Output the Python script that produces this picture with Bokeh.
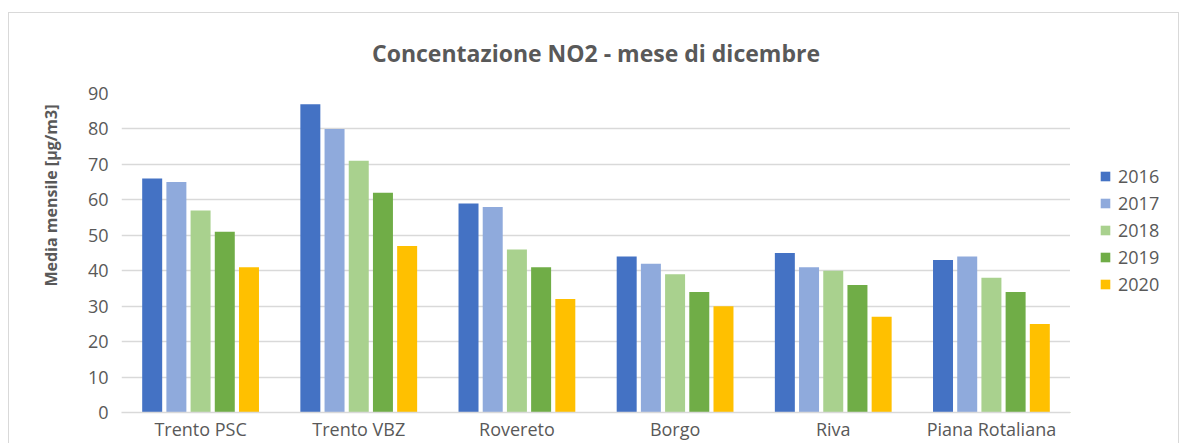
from bokeh.plotting import figure
from bokeh.layouts import row
from bokeh.models import (FactorRange, Range1d, FixedTicker, Legend, LegendItem,
                          Title, ColumnDataSource)
from bokeh.transform import dodge
from bokeh.embed import file_html
from bokeh.resources import INLINE

stations = ["Trento PSC", "Trento VBZ", "Rovereto", "Borgo", "Riva", "Piana Rotaliana"]
years = ["2016", "2017", "2018", "2019", "2020"]
v2016 = [66, 87, 59, 44, 45, 43]
v2017 = [65, 80, 58, 42, 41, 44]
v2018 = [57, 71, 46, 39, 40, 38]
v2019 = [51, 62, 41, 34, 36, 34]
v2020 = [41, 47, 32, 30, 27, 25]
colors = ["#4472C4", "#8FAADC", "#A9D18E", "#70AD47", "#FFC000"]
y_ticks = [0, 10, 20, 30, 40, 50, 60, 70, 80, 90]
title_text = "Concentazione NO2 - mese di dicembre"
y_label = "Media mensile [µg/m3]"

FONT = "Open Sans"
TXT = "#595959"
GRID = "#d9d9d9"

src = ColumnDataSource(dict(station=stations, y2016=v2016, y2017=v2017,
                            y2018=v2018, y2019=v2019, y2020=v2020))

p = figure(width=1061, height=430,
           x_range=FactorRange(*stations), y_range=Range1d(0, 90),
           output_backend="svg", toolbar_location=None,
           min_border_left=112, min_border_right=0,
           min_border_top=79, min_border_bottom=31,
           title=title_text)

p.title.align = "center"
p.title.vertical_align = "top"
p.title.text_font = FONT
p.title.text_font_size = "23px"
p.title.text_font_style = "bold"
p.title.text_color = TXT
p.title.standoff = 46

p.outline_line_color = None
p.xgrid.grid_line_color = None
p.ygrid.grid_line_color = GRID
p.ygrid.grid_line_width = 1.5
p.yaxis.ticker = FixedTicker(ticks=y_ticks)
p.yaxis.axis_line_color = None
p.yaxis.major_tick_line_color = None
p.yaxis.minor_tick_line_color = None
p.yaxis.major_label_standoff = 7
p.yaxis.major_label_text_font = FONT
p.yaxis.major_label_text_font_size = "18px"
p.yaxis.major_label_text_color = TXT

p.xaxis.axis_line_color = GRID
p.xaxis.axis_line_width = 1.5
p.xaxis.major_tick_line_color = None
p.xaxis.minor_tick_line_color = None
p.xaxis.major_label_standoff = -2
p.xaxis.major_label_text_font = FONT
p.xaxis.major_label_text_font_size = "18px"
p.xaxis.major_label_text_color = TXT

offsets = [-0.306, -0.153, 0.0, 0.153, 0.306]
for yr, off, col in zip(years, offsets, colors):
    p.vbar(x=dodge("station", off, range=p.x_range), top="y" + yr, width=0.1264,
           bottom=0, source=src, fill_color=col, line_color=None)

ytitle = Title(text=y_label, align="right", offset=11,
               text_font=FONT, text_font_size="16px", text_font_style="bold",
               text_color=TXT, standoff=46)
p.add_layout(ytitle, "left")

# legend panel (separate small canvas to the right of the plot area)
lg = figure(width=108, height=430, x_range=Range1d(0, 1), y_range=Range1d(0, 1),
            output_backend="svg", toolbar_location=None,
            min_border_left=0, min_border_right=0, min_border_top=0, min_border_bottom=0)
lg.axis.visible = False
lg.grid.visible = False
lg.outline_line_color = None
items = []
for yr, col in zip(years, colors):
    # legend swatch source: a single mark placed outside the visible range
    r = lg.vbar(x=[-10], top=[-10], bottom=[-11], width=0.1,
                fill_color=col, line_color=None)
    items.append(LegendItem(label=yr, renderers=[r]))
legend = Legend(items=items, location=(29, 116), border_line_color=None,
                background_fill_alpha=0, padding=0, margin=0,
                glyph_width=12, glyph_height=12, label_standoff=7,
                spacing=3, label_height=20,
                label_text_font=FONT, label_text_font_size="18px",
                label_text_color=TXT)
lg.add_layout(legend)

layout = row(p, lg, spacing=0)
layout.styles = {"border": "1px solid #d9d9d9", "border-bottom": "none",
                 "margin-top": "12px", "margin-left": "8px"}

open("out.html", "w").write(file_html(layout, INLINE))
